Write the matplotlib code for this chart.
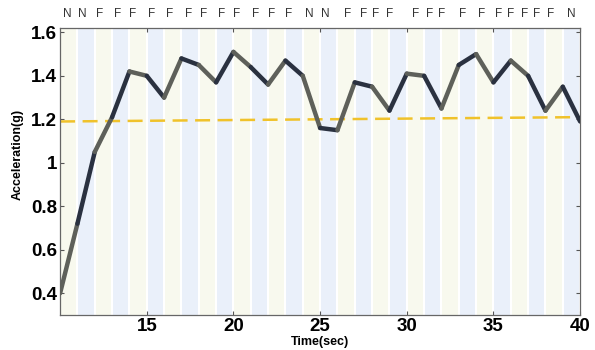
import numpy as np
import matplotlib.pyplot as plt
from matplotlib.collections import LineCollection
from matplotlib.transforms import blended_transform_factory

plt.rcParams['font.family'] = ['Liberation Sans', 'DejaVu Sans']

# acceleration samples, one per second
time_s = [10, 11, 12, 13, 14, 15, 16, 17, 18, 19, 20, 21, 22, 23, 24, 25,
          26, 27, 28, 29, 30, 31, 32, 33, 34, 35, 36, 37, 38, 39, 40]
accel_g = [0.40, 0.72, 1.05, 1.21, 1.42, 1.40, 1.30, 1.48, 1.45, 1.37, 1.51,
           1.44, 1.36, 1.47, 1.40, 1.16, 1.15, 1.37, 1.35, 1.24, 1.41, 1.40,
           1.25, 1.45, 1.50, 1.37, 1.47, 1.40, 1.24, 1.35, 1.19]

# threshold line end points
thresh_t = [10, 40]
thresh_g = [1.19, 1.21]

# N / F state labels along the top
state_t = [10.4, 11.3, 12.3, 13.3, 14.2, 15.3, 16.3, 17.4, 18.3, 19.3, 20.2,
           21.3, 22.2, 23.2, 24.4, 25.3, 26.6, 27.5, 28.2, 29.0, 30.5, 31.3,
           32.0, 33.2, 34.3, 35.3, 36.0, 36.8, 37.5, 38.3, 39.5]
state_lbl = ['N', 'N', 'F', 'F', 'F', 'F', 'F', 'F', 'F', 'F', 'F', 'F', 'F',
             'F', 'N', 'N', 'F', 'F', 'F', 'F', 'F', 'F', 'F', 'F', 'F', 'F',
             'F', 'F', 'F', 'F', 'N']

x_ticks = [15, 20, 25, 30, 35, 40]
y_ticks = [0.4, 0.6, 0.8, 1.0, 1.2, 1.4, 1.6]
y_tick_lbl = ['0.4', '0.6', '0.8', '1', '1.2', '1.4', '1.6']

fig = plt.figure(figsize=(5.95, 3.5), dpi=100)
ax = fig.add_axes([0.101, 0.10, 0.874, 0.82])

# alternating background bands, one per second
for t in range(10, 40):
    c = '#f8f9ee' if (t - 10) % 2 == 0 else '#eaf0fa'
    ax.axvspan(t + 0.06, t + 0.94, color=c, lw=0, zorder=0)

ax.plot(thresh_t, thresh_g, color='#f0c22a', lw=1.8, dashes=(6, 3), zorder=2)

pts = np.column_stack([time_s, accel_g])
segs = np.stack([pts[:-1], pts[1:]], axis=1)
seg_colors = ['#5e605a' if i % 2 == 0 else '#2a3140' for i in range(len(segs))]
lc = LineCollection(segs, colors=seg_colors, linewidths=3.2,
                    capstyle='round', joinstyle='round', zorder=3)
ax.add_collection(lc)

ax.set_xlim(10, 40)
ax.set_ylim(0.3, 1.62)
ax.set_xticks(x_ticks)
ax.set_yticks(y_ticks)
ax.set_yticklabels(y_tick_lbl)
ax.tick_params(direction='in', length=3, top=True, right=True,
               labelsize=13.5, color='#555555', pad=2)
for lab in ax.get_xticklabels() + ax.get_yticklabels():
    lab.set_fontweight('bold')
for s in ax.spines.values():
    s.set_color('#666666')
    s.set_linewidth(0.9)

ax.set_xlabel('Time(sec)', fontsize=9, fontweight='bold', labelpad=1)
ax.set_ylabel('Acceleration(g)', fontsize=9, fontweight='bold')
ax.yaxis.set_label_coords(-0.07, 0.56)

trans = blended_transform_factory(ax.transData, ax.transAxes)
for t, s in zip(state_t, state_lbl):
    ax.text(t, 1.05, s, transform=trans, ha='center', va='center',
            fontsize=8.5, color='#333333')

fig.savefig('out.png', dpi=100)
